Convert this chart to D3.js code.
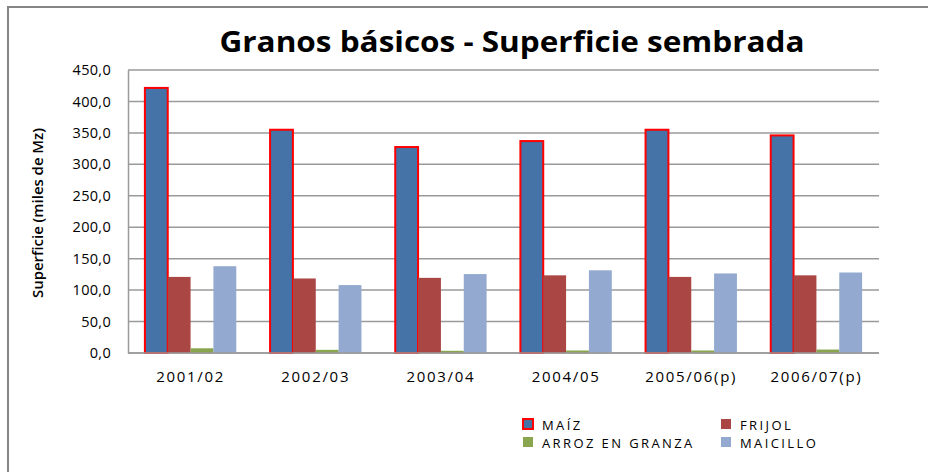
<!DOCTYPE html>
<html>
<head>
<meta charset="utf-8">
<script src="https://cdn.jsdelivr.net/npm/d3@7"></script>
<style>
  body { margin: 0; background: #fff; }
  svg { display: block; font-family: "Open Sans", "DejaVu Sans", sans-serif; }
</style>
</head>
<body>
<svg id="chartSVG" width="928" height="472"></svg>
<script>
// periods on the x axis
const periods = ["2001/02", "2002/03", "2003/04", "2004/05", "2005/06(p)", "2006/07(p)"];
// series names, legend order
const seriesNames = ["MAÍZ", "FRIJOL", "ARROZ EN GRANZA", "MAICILLO"];
// values in thousands of manzanas
const maiz = [421.5, 355.0, 327.5, 337.0, 355.0, 346.0];
const frijol = [121.0, 118.5, 119.5, 123.5, 121.0, 123.5];
const arroz = [7.5, 5.0, 3.5, 4.0, 4.0, 5.5];
const maicillo = [138.0, 108.0, 125.5, 131.5, 126.5, 128.0];
const yTicks = [0, 50, 100, 150, 200, 250, 300, 350, 400, 450];

const seriesValues = [maiz, frijol, arroz, maicillo];
const seriesColours = ["#4572A7", "#AA4643", "#89A54E", "#93A9CF"];

const plotLeft = 128, plotRight = 879, plotTop = 70, plotBottom = 353;

var svg = d3.select("#chartSVG");

// outer chart frame
svg.append("rect")
    .attr("x", 8).attr("y", 7)
    .attr("width", 940).attr("height", 490)
    .attr("fill", "none")
    .attr("stroke", "#868686")
    .attr("stroke-width", 2);

var xScale = d3.scaleBand()
    .domain(periods)
    .range([plotLeft, plotRight])
    .paddingInner(0.27)
    .paddingOuter(0.135);

var subScale = d3.scaleBand()
    .domain(seriesNames)
    .range([0, xScale.bandwidth()]);

var yScale = d3.scaleLinear()
    .domain([0, 450])
    .range([plotBottom, plotTop]);

var fmt = v => d3.format(".1f")(v).replace(".", ",");

// gridlines
svg.append("g")
    .selectAll("line")
    .data(yTicks)
    .join("line")
        .attr("x1", plotLeft).attr("x2", plotRight)
        .attr("y1", d => yScale(d)).attr("y2", d => yScale(d))
        .attr("stroke", "#9a9a9a")
        .attr("stroke-width", 1.5);

// y axis
var yAxis = d3.axisLeft(yScale)
    .tickValues(yTicks)
    .tickFormat(fmt)
    .tickSize(0)
    .tickPadding(17);
var yAxisG = svg.append("g")
    .attr("transform", "translate(" + plotLeft + ",0)")
    .call(yAxis);
yAxisG.select(".domain").attr("stroke", "#9a9a9a").attr("stroke-width", 1.5);
yAxisG.selectAll("text")
    .attr("font-size", 14.5)
    .attr("font-family", "Open Sans, sans-serif")
    .attr("letter-spacing", 0.3)
    .attr("fill", "#000");

// x axis labels
var xAxis = d3.axisBottom(xScale).tickSize(0).tickPadding(18);
var xAxisG = svg.append("g")
    .attr("transform", "translate(0," + plotBottom + ")")
    .call(xAxis);
xAxisG.select(".domain").remove();
xAxisG.selectAll("text")
    .attr("font-size", 15)
    .attr("font-family", "Open Sans, sans-serif")
    .attr("letter-spacing", 1.7)
    .attr("fill", "#000");

// bars
seriesNames.forEach((name, s) => {
    svg.append("g")
        .selectAll("rect")
        .data(periods)
        .join("rect")
            .attr("x", (d, i) => xScale(d) + subScale(name))
            .attr("y", (d, i) => yScale(seriesValues[s][i]))
            .attr("width", subScale.bandwidth())
            .attr("height", (d, i) => plotBottom - yScale(seriesValues[s][i]))
            .attr("fill", seriesColours[s])
            .attr("stroke", s === 0 ? "#FF0000" : "none")
            .attr("stroke-width", 2);
});

// baseline on top of the bars
svg.append("line")
    .attr("x1", plotLeft).attr("x2", plotRight)
    .attr("y1", plotBottom).attr("y2", plotBottom)
    .attr("stroke", "#9a9a9a").attr("stroke-width", 1.5);

// title
svg.append("text")
    .text("Granos básicos - Superficie sembrada")
    .attr("x", 512).attr("y", 52)
    .attr("text-anchor", "middle")
    .attr("font-size", 28)
    .attr("font-weight", "bold")
    .attr("textLength", 585)
    .attr("lengthAdjust", "spacingAndGlyphs");

// y axis title
svg.append("text")
    .text("Superficie (miles de Mz)")
    .attr("transform", "translate(43,213) rotate(-90)")
    .attr("text-anchor", "middle")
    .attr("font-size", 14)
    .attr("font-weight", 600)
    .attr("textLength", 170)
    .attr("lengthAdjust", "spacingAndGlyphs");

// legend
var legendPos = [[523, 419], [721, 419], [523, 437], [721, 437]];
seriesNames.forEach((name, s) => {
    var g = svg.append("g")
        .attr("transform", "translate(" + legendPos[s][0] + "," + legendPos[s][1] + ")");
    g.append("rect")
        .attr("x", 0).attr("y", 0)
        .attr("width", 10).attr("height", 10)
        .attr("fill", seriesColours[s])
        .attr("stroke", s === 0 ? "#FF0000" : "none")
        .attr("stroke-width", 2);
    g.append("text")
        .text(name)
        .attr("x", 19).attr("y", 10.5)
        .attr("font-size", 13)
        .attr("letter-spacing", 2.4);
});
</script>
</body>
</html>
